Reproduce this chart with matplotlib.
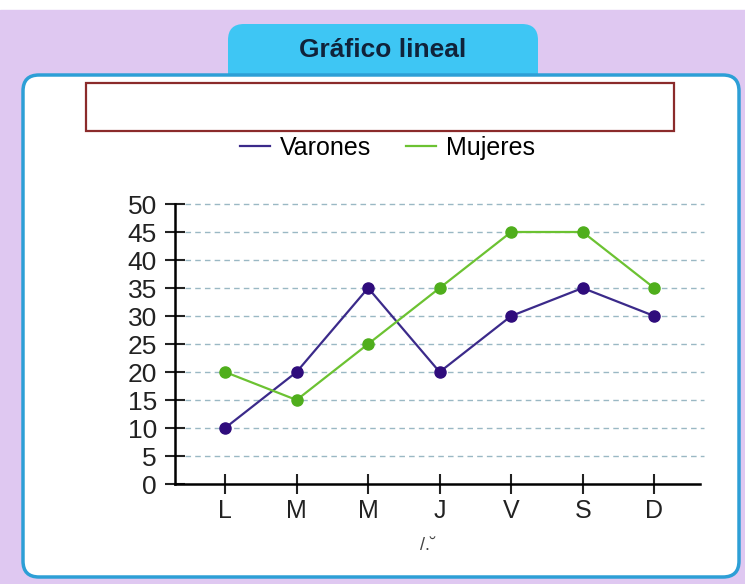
import matplotlib.pyplot as plt
from matplotlib.patches import FancyBboxPatch, Rectangle
from matplotlib.lines import Line2D

plt.rcParams['font.family'] = ['Liberation Sans Narrow', 'Liberation Sans', 'DejaVu Sans']

dias = ['L', 'M', 'M', 'J', 'V', 'S', 'D']
varones = [10, 20, 35, 20, 30, 35, 30]
mujeres = [20, 15, 25, 35, 45, 45, 35]
y_ticks = [0, 5, 10, 15, 20, 25, 30, 35, 40, 45, 50]

fig = plt.figure(figsize=(7.45, 5.84), dpi=100)

# background card drawn in pixel units
bg = fig.add_axes([0, 0, 1, 1])
bg.set_xlim(0, 745)
bg.set_ylim(584, 0)
bg.axis('off')
bg.add_patch(Rectangle((0, 0), 745, 584, color='white'))
bg.add_patch(Rectangle((0, 10), 745, 574, color='#dfc8f1'))
bg.add_patch(FancyBboxPatch((228, 24), 310, 70, boxstyle='round,pad=0,rounding_size=16',
                            facecolor='#3ec6f4', edgecolor='none'))
bg.add_patch(FancyBboxPatch((23, 75), 716, 502, boxstyle='round,pad=0,rounding_size=16',
                            facecolor='white', edgecolor='#2d9fd6', linewidth=2.5))
bg.add_patch(Rectangle((86, 83), 588, 48, facecolor='white', edgecolor='#8b2b2b', linewidth=1.6))
bg.text(383, 50, 'Gráfico lineal', ha='center', va='center', fontsize=19,
        fontweight='bold', color='#10233a')
bg.text(428, 546, '/.˘', ha='center', va='center', fontsize=13, color='#444444')

ax = fig.add_axes([175 / 745, 1 - 484 / 584, 525 / 745, 280 / 584])
x = range(len(dias))
ax.plot(x, varones, color='#3b2a8a', linewidth=1.6, marker='o', markersize=8,
        markerfacecolor='#2f0c7c', markeredgecolor='#2f0c7c', zorder=3)
ax.plot(x, mujeres, color='#6cc232', linewidth=1.6, marker='o', markersize=8,
        markerfacecolor='#4fae1c', markeredgecolor='#4fae1c', zorder=3)

ax.set_xlim(-0.7, 6.64)
ax.set_ylim(0, 50)
ax.set_xticks(list(x))
ax.set_xticklabels(dias, fontsize=18)
ax.set_yticks(y_ticks)
ax.set_yticklabels([str(v) for v in y_ticks], fontsize=19)
ax.tick_params(axis='both', direction='inout', length=14, width=1.5, colors='#222222', pad=4)
ax.tick_params(axis='y', pad=6)

for v in y_ticks[1:]:
    ax.plot([-0.56, 6.7], [v, v], linestyle=(0, (4, 3)), color='#9ab8c4', linewidth=1,
            zorder=1, clip_on=False)

ax.spines['top'].set_visible(False)
ax.spines['right'].set_visible(False)
ax.spines['left'].set_linewidth(1.8)
ax.spines['bottom'].set_linewidth(1.8)
ax.patch.set_alpha(0)

handles = [Line2D([], [], color='#3b2a8a', linewidth=1.6),
           Line2D([], [], color='#6cc232', linewidth=1.6)]
fig.legend(handles, ['Varones', 'Mujeres'], loc='center', bbox_to_anchor=(0.52, 1 - 148 / 584),
           ncol=2, frameon=False, fontsize=18, handlelength=1.2, handletextpad=0.4,
           columnspacing=1.4)

fig.savefig('out.png', dpi=100)
